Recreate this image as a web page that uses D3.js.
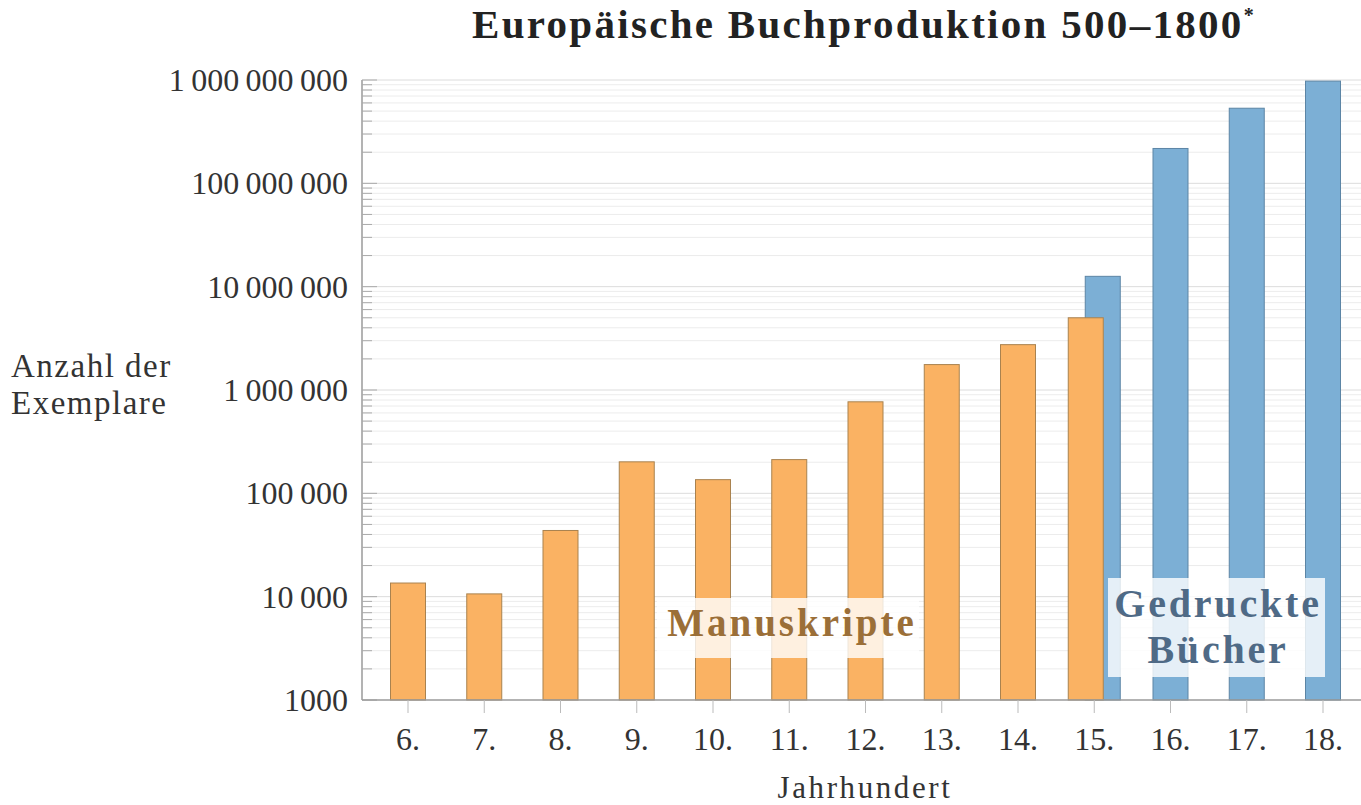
<!DOCTYPE html>
<html>
<head>
<meta charset="utf-8">
<script src="https://cdn.jsdelivr.net/npm/d3@7"></script>
<style>
  body { margin: 0; background: #fff; }
  text { font-family: "Liberation Serif", "DejaVu Serif", serif; }
</style>
</head>
<body>
<svg width="1361" height="805"></svg>
<script>
const centuries = ['6.', '7.', '8.', '9.', '10.', '11.', '12.', '13.', '14.', '15.', '16.', '17.', '18.'];
const manuscriptCenturies = ['6.', '7.', '8.', '9.', '10.', '11.', '12.', '13.', '14.', '15.'];
const manuscripts = [13552, 10639, 43702, 201742, 135637, 212030, 768721, 1761951, 2746951, 4999161];
const printedCenturies = ['15.', '16.', '17.', '18.'];
const printed = [12589000, 217444000, 533144000, 975605000];
const yTicks = [1e3, 1e4, 1e5, 1e6, 1e7, 1e8, 1e9];

const svg = d3.select('svg');
const plotLeft = 362, plotRight = 1361, plotTop = 80, plotBottom = 700;

const x = d3.scalePoint().domain(centuries).range([408, 1323]);
const y = d3.scaleLog().domain([1e3, 1e9]).range([plotBottom, plotTop]);
const barW = 35;
// 4-digit numbers without grouping, larger ones with thin spaces
const fmt = (d) => (d < 1e4 ? String(d) : d3.format(',')(d).replace(/,/g, '\u2009'));

const gridG = svg.append('g');
const blueG = svg.append('g');
const orangeG = svg.append('g');

// grid lines (minor + major)
const minor = [];
for (let e = 3; e < 9; e++) for (let m = 2; m <= 9; m++) minor.push(m * Math.pow(10, e));
gridG.selectAll('.minor')
  .data(minor)
  .enter()
  .append('line')
  .attr('x1', plotLeft).attr('x2', plotRight)
  .attr('y1', (d) => y(d)).attr('y2', (d) => y(d))
  .attr('stroke', '#ececec').attr('stroke-width', 1);
gridG.selectAll('.major')
  .data(yTicks.slice(1))
  .enter()
  .append('line')
  .attr('x1', plotLeft).attr('x2', plotRight)
  .attr('y1', (d) => y(d)).attr('y2', (d) => y(d))
  .attr('stroke', '#dcdcdc').attr('stroke-width', 1);

// printed bars (15th shifted right, sits behind the orange one)
blueG.selectAll('rect')
  .data(printed)
  .enter()
  .append('rect')
  .attr('x', (d, i) => x(printedCenturies[i]) - barW / 2 + (printedCenturies[i] === '15.' ? 8.5 : 0))
  .attr('y', (d) => y(d))
  .attr('width', barW)
  .attr('height', (d) => plotBottom - y(d))
  .attr('fill', '#7cafd5')
  .attr('stroke', '#5c85a5')
  .attr('stroke-width', 1);

// manuscripts bars (15th shifted left)
orangeG.selectAll('rect')
  .data(manuscripts)
  .enter()
  .append('rect')
  .attr('x', (d, i) => x(manuscriptCenturies[i]) - barW / 2 - (manuscriptCenturies[i] === '15.' ? 8.5 : 0))
  .attr('y', (d) => y(d))
  .attr('width', barW)
  .attr('height', (d) => plotBottom - y(d))
  .attr('fill', '#fab263')
  .attr('stroke', '#a9824f')
  .attr('stroke-width', 1);

// y axis
const yAxis = svg.append('g');
yAxis.append('line')
  .attr('x1', plotLeft).attr('x2', plotLeft).attr('y1', plotTop).attr('y2', plotBottom)
  .attr('stroke', '#9a9a9a').attr('stroke-width', 1.5);
yAxis.selectAll('.minor')
  .data(minor)
  .enter()
  .append('line')
  .attr('x1', plotLeft).attr('x2', plotLeft + 10)
  .attr('y1', (d) => y(d)).attr('y2', (d) => y(d))
  .attr('stroke', '#aaa');
yAxis.selectAll('.major')
  .data(yTicks)
  .enter()
  .append('line')
  .attr('x1', plotLeft).attr('x2', plotLeft + 15)
  .attr('y1', (d) => y(d)).attr('y2', (d) => y(d))
  .attr('stroke', '#aaa');
yAxis.selectAll('text')
  .data(yTicks)
  .enter()
  .append('text')
  .attr('x', 348)
  .attr('y', (d) => y(d) + 11)
  .attr('text-anchor', 'end')
  .attr('font-size', 32)
  .attr('fill', '#333')
  .text(fmt);

// x axis
const xAxis = svg.append('g');
xAxis.append('line')
  .attr('x1', plotLeft).attr('x2', plotRight).attr('y1', plotBottom).attr('y2', plotBottom)
  .attr('stroke', '#9a9a9a').attr('stroke-width', 1.5);
xAxis.selectAll('.tick')
  .data(centuries)
  .enter()
  .append('line')
  .attr('x1', (d) => x(d)).attr('x2', (d) => x(d))
  .attr('y1', plotBottom).attr('y2', plotBottom + 13)
  .attr('stroke', '#bbb');
xAxis.selectAll('text')
  .data(centuries)
  .enter()
  .append('text')
  .attr('x', (d) => x(d))
  .attr('y', 750)
  .attr('text-anchor', 'middle')
  .attr('font-size', 32)
  .attr('fill', '#333')
  .text((d) => d);

// titles
const title = svg.append('text')
  .attr('x', 864).attr('y', 38)
  .attr('text-anchor', 'middle')
  .attr('font-size', 41)
  .attr('font-weight', 'bold')
  .attr('letter-spacing', 2.3)
  .attr('fill', '#222')
  .text('Europäische Buchproduktion 500–1800');
title.append('tspan').attr('font-size', 20).attr('dy', -16).text('*');

svg.append('text')
  .attr('x', 865).attr('y', 798)
  .attr('text-anchor', 'middle')
  .attr('font-size', 31)
  .attr('letter-spacing', 2.6)
  .attr('fill', '#333')
  .text('Jahrhundert');

const yl = svg.append('text')
  .attr('x', 11).attr('y', 377)
  .attr('font-size', 33)
  .attr('letter-spacing', 1.5)
  .attr('fill', '#333');
yl.append('tspan').attr('x', 11).text('Anzahl der');
yl.append('tspan').attr('x', 11).attr('dy', 37).text('Exemplare');

// category labels
svg.append('rect')
  .attr('x', 657).attr('y', 598).attr('width', 262).attr('height', 60)
  .attr('fill', '#fff').attr('fill-opacity', 0.8);
svg.append('text')
  .attr('x', 792).attr('y', 636)
  .attr('text-anchor', 'middle')
  .attr('font-size', 39)
  .attr('font-weight', 'bold')
  .attr('letter-spacing', 3)
  .attr('fill', '#9b6f38')
  .text('Manuskripte');

svg.append('rect')
  .attr('x', 1108).attr('y', 578).attr('width', 217).attr('height', 99)
  .attr('fill', '#fff').attr('fill-opacity', 0.8);
const gb = svg.append('text')
  .attr('text-anchor', 'middle')
  .attr('font-size', 40)
  .attr('font-weight', 'bold')
  .attr('letter-spacing', 2.8)
  .attr('fill', '#4f6a86');
gb.append('tspan').attr('x', 1218).attr('y', 617).text('Gedruckte');
gb.append('tspan').attr('x', 1218).attr('y', 663).text('Bücher');
</script>
</body>
</html>
